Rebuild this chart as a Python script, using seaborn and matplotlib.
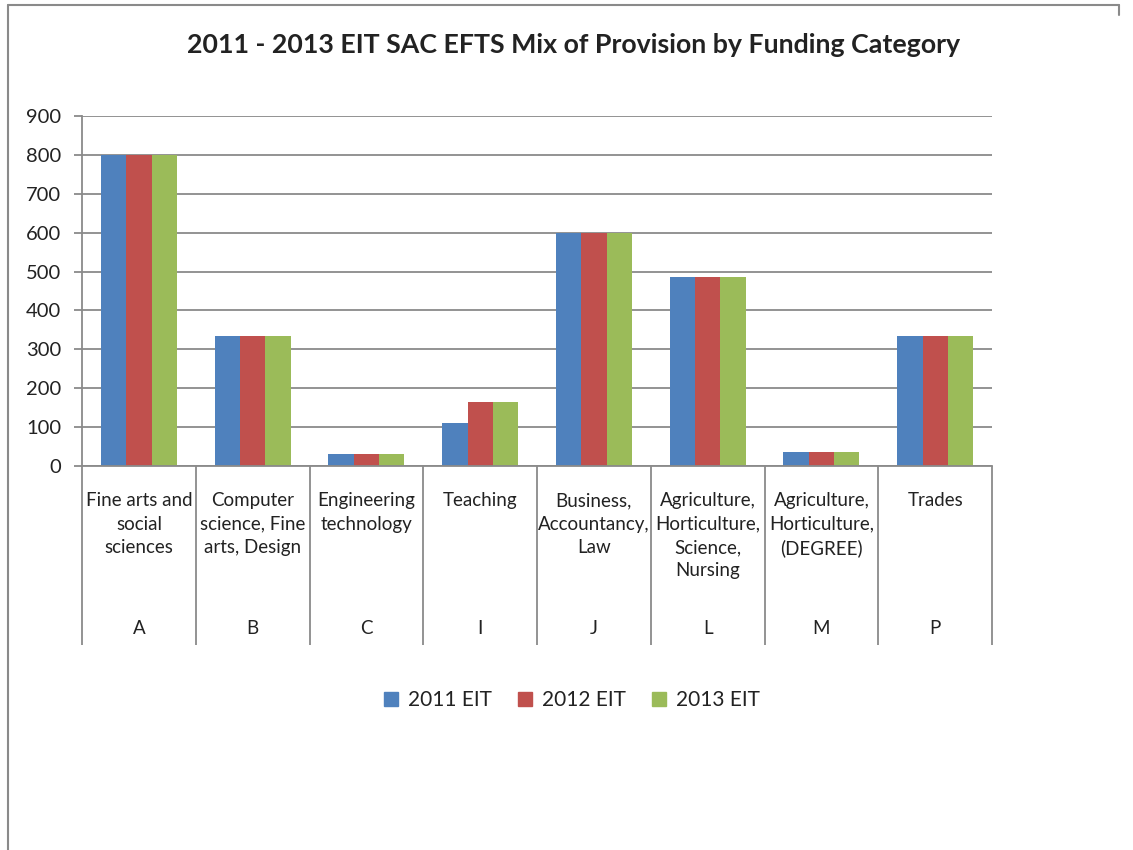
import matplotlib.pyplot as plt
import numpy as np
import pandas as pd
import seaborn as sns
from matplotlib.lines import Line2D
from matplotlib.patches import Patch

# funding categories (code + description) and EFTS per year
codes = ['A', 'B', 'C', 'I', 'J', 'L', 'M', 'P']
descriptions = ['Fine arts and\nsocial\nsciences',
                'Computer\nscience, Fine\narts, Design',
                'Engineering\ntechnology',
                'Teaching',
                'Business,\nAccountancy,\nLaw',
                'Agriculture,\nHorticulture,\nScience,\nNursing',
                'Agriculture,\nHorticulture,\n(DEGREE)',
                'Trades']
years = ['2011 EIT', '2012 EIT', '2013 EIT']
efts_2011 = [800, 334, 30, 110, 600, 486, 36, 334]
efts_2012 = [800, 334, 30, 165, 600, 486, 36, 334]
efts_2013 = [800, 334, 30, 165, 600, 486, 36, 334]
colors = ['#4F81BD', '#C0504D', '#9BBB59']

df = pd.DataFrame({'code': codes * 3,
                   'year': np.repeat(years, len(codes)),
                   'efts': efts_2011 + efts_2012 + efts_2013})

sns.set_style('white')
plt.rcParams['font.family'] = ['Lato', 'DejaVu Sans']
grey = '#8a8a8a'
txt = '#222222'

fig = plt.figure(figsize=(11.33, 8.5), dpi=100)
ax = fig.add_axes([0.0724, 0.4518, 0.8032, 0.4118])

sns.barplot(data=df, x='code', y='efts', hue='year', palette=colors,
            width=0.667, gap=0, saturation=1, linewidth=0, errorbar=None,
            legend=False, ax=ax)

# y axis
ax.set_ylim(0, 900)
ax.set_yticks(range(0, 901, 100))
ax.yaxis.grid(True, color=grey, lw=1.3)
ax.set_axisbelow(True)
ax.tick_params(axis='y', left=True, length=6, width=1.3, color=grey,
               labelsize=14.5, labelcolor=txt, pad=9)

# category axis, two levels with divider lines
ax.set_xlim(-0.5, len(codes) - 0.5)
ax.set_xticks(range(len(codes)))
ax.set_xticklabels(descriptions, fontsize=13.5, color=txt, va='top',
                   linespacing=1.45)
ax.set_xticks(np.arange(-0.5, len(codes), 1), minor=True)
ax.tick_params(axis='x', which='major', bottom=True, length=0, pad=19)
ax.tick_params(axis='x', which='minor', bottom=True, length=129, width=1.3,
               color=grey)
for i, c in enumerate(codes):
    ax.text(i, -0.463, c, transform=ax.get_xaxis_transform(), ha='center',
            va='center', fontsize=13.5, color=txt)

ax.set_xlabel('')
ax.set_ylabel('')
for side in ['top', 'right']:
    ax.spines[side].set_visible(False)
for side in ['left', 'bottom']:
    ax.spines[side].set_color(grey)
    ax.spines[side].set_linewidth(1.3)

# legend below the chart
handles = [Patch(color=c, label=y) for c, y in zip(colors, years)]
fig.legend(handles=handles, loc='center', bbox_to_anchor=(0.505, 0.176),
           ncol=3, frameon=False, fontsize=15, handlelength=0.65,
           handleheight=0.65, columnspacing=1.25, handletextpad=0.5,
           labelcolor=txt)

fig.text(0.506, 0.947, '2011 - 2013 EIT SAC EFTS Mix of Provision by Funding Category',
         ha='center', va='center', fontsize=19.3, fontweight='bold', color=txt)

# chart frame (left and top edges)
fig.add_artist(Line2D([0.0075, 0.0075], [0, 0.994], transform=fig.transFigure,
                      color=grey, lw=1.5))
fig.add_artist(Line2D([0.0075, 0.988], [0.994, 0.994], transform=fig.transFigure,
                      color=grey, lw=1.5))
fig.add_artist(Line2D([0.988, 0.988], [0.994, 0.982], transform=fig.transFigure,
                      color=grey, lw=1.5))

fig.savefig('out.png', dpi=100)
